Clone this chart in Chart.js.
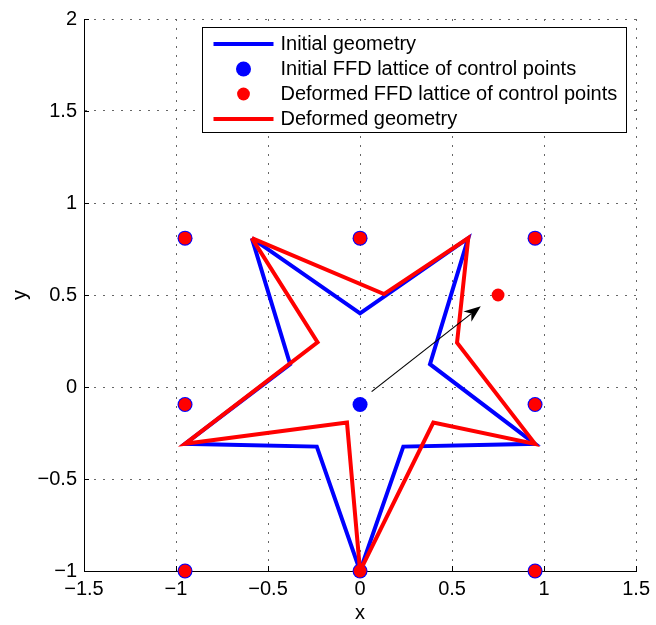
<!DOCTYPE html>
<html>
<head>
<meta charset="utf-8">
<script src="https://cdn.jsdelivr.net/npm/chart.js@4.4.1/dist/chart.umd.min.js"></script>
<style>
  html, body { margin: 0; padding: 0; background: #fff; }
  #wrap { width: 656px; height: 625px; }
</style>
</head>
<body>
<div id="wrap"><canvas id="ffdChart"></canvas></div>
<script>
// Star outline before the FFD step (closed: first vertex repeated)
const initialX = [-0.588, 0, 0.588, 0.38, 0.951, 0.235, 0, -0.235, -0.951, -0.38, -0.588];
const initialY = [0.809, 0.4, 0.809, 0.124, -0.309, -0.324, -1, -0.324, -0.309, 0.124, 0.809];

// Star outline after the centre control point was moved
const deformedX = [-0.588, 0.13, 0.588, 0.527, 0.951, 0.398, 0, -0.071, -0.951, -0.231, -0.588];
const deformedY = [0.809, 0.505, 0.809, 0.241, -0.309, -0.193, -1, -0.193, -0.309, 0.243, 0.809];

// 3x3 lattice of control points, before and after
const latticeX = [-0.951, 0, 0.951, -0.951, 0, 0.951, -0.951, 0, 0.951];
const latticeY = [-1, -1, -1, -0.095, -0.095, -0.095, 0.809, 0.809, 0.809];
const movedLatticeX = [-0.951, 0, 0.951, -0.951, 0.75, 0.951, -0.951, 0, 0.951];
const movedLatticeY = [-1, -1, -1, -0.095, 0.5, -0.095, 0.809, 0.809, 0.809];

// displacement arrow: [from, to]
const arrowX = [0.063, 0.656];
const arrowY = [-0.025, 0.439];

const xTicks = [-1.5, -1, -0.5, 0, 0.5, 1, 1.5];
const yTicks = [-1, -0.5, 0, 0.5, 1, 1.5, 2];

const FONT = '"Liberation Sans", Arial, Helvetica, sans-serif';
Chart.defaults.font.family = FONT;
Chart.defaults.font.size = 20;
Chart.defaults.color = '#000';

const toPoints = (xs, ys) => xs.map((x, i) => ({ x: x, y: ys[i] }));
const fmt = v => String(v).replace('-', '\u2212');

// small tick marks pointing into the plot area
const innerTicks = {
    id: 'innerTicks',
    beforeDatasetsDraw(chart) {
        const { ctx, chartArea, scales } = chart;
        ctx.save();
        ctx.strokeStyle = '#000';
        ctx.lineWidth = 1;
        ctx.beginPath();
        xTicks.forEach(v => {
            const px = Math.round(scales.x.getPixelForValue(v)) + 0.5;
            ctx.moveTo(px, chartArea.bottom);
            ctx.lineTo(px, chartArea.bottom - 5);
        });
        yTicks.forEach(v => {
            const py = Math.round(scales.y.getPixelForValue(v)) + 0.5;
            ctx.moveTo(chartArea.left, py);
            ctx.lineTo(chartArea.left + 5, py);
        });
        ctx.stroke();
        ctx.restore();
    }
};

// arrow showing how the centre control point moved
const moveArrow = {
    id: 'moveArrow',
    afterDatasetsDraw(chart) {
        const { ctx, scales } = chart;
        const x0 = scales.x.getPixelForValue(arrowX[0]);
        const y0 = scales.y.getPixelForValue(arrowY[0]);
        const x1 = scales.x.getPixelForValue(arrowX[1]);
        const y1 = scales.y.getPixelForValue(arrowY[1]);
        const a = Math.atan2(y1 - y0, x1 - x0);
        const len = 17, half = 6.5, notch = 12;
        const ux = Math.cos(a), uy = Math.sin(a);
        ctx.save();
        ctx.strokeStyle = '#000';
        ctx.fillStyle = '#000';
        ctx.lineWidth = 1.2;
        ctx.beginPath();
        ctx.moveTo(x0, y0);
        ctx.lineTo(x1 - ux * notch, y1 - uy * notch);
        ctx.stroke();
        ctx.beginPath();
        ctx.moveTo(x1, y1);
        ctx.lineTo(x1 - ux * len - uy * half, y1 - uy * len + ux * half);
        ctx.lineTo(x1 - ux * notch, y1 - uy * notch);
        ctx.lineTo(x1 - ux * len + uy * half, y1 - uy * len - ux * half);
        ctx.closePath();
        ctx.fill();
        ctx.restore();
    }
};

// boxed legend in the upper right of the axes
const boxLegend = {
    id: 'boxLegend',
    afterDraw(chart) {
        const { ctx, chartArea } = chart;
        const items = chart.data.datasets;
        const rowH = 25;
        ctx.save();
        ctx.font = '20px ' + FONT;
        const textW = Math.max(...items.map(ds => ctx.measureText(ds.label).width));
        const w = Math.round(78 + textW + 9);
        const h = items.length * rowH + 5;
        const left = Math.round(chartArea.right - 10 - w) + 0.5;
        const top = Math.round(chartArea.top + 8) + 0.5;
        ctx.fillStyle = '#fff';
        ctx.fillRect(left, top, w, h);
        ctx.strokeStyle = '#000';
        ctx.lineWidth = 1;
        ctx.strokeRect(left, top, w, h);
        items.forEach((ds, i) => {
            const cy = top + 16.5 + i * rowH;
            if (ds.showLine) {
                ctx.strokeStyle = ds.borderColor;
                ctx.lineWidth = ds.borderWidth;
                ctx.beginPath();
                ctx.moveTo(left + 11, cy);
                ctx.lineTo(left + 71, cy);
                ctx.stroke();
            } else {
                ctx.fillStyle = ds.backgroundColor;
                ctx.beginPath();
                ctx.arc(left + 41, cy, ds.pointRadius, 0, Math.PI * 2);
                ctx.fill();
            }
            ctx.fillStyle = '#000';
            ctx.textBaseline = 'middle';
            ctx.textAlign = 'left';
            ctx.fillText(ds.label, left + 78, cy);
        });
        ctx.restore();
    }
};

const gridOpts = { drawTicks: false, color: '#666', lineWidth: 1 };
const borderOpts = { display: true, color: '#000', width: 1, dash: [2, 7] };

new Chart(document.getElementById('ffdChart'), {
    type: 'scatter',
    data: {
        datasets: [
            {
                label: 'Initial geometry',
                data: toPoints(initialX, initialY),
                showLine: true,
                borderColor: '#0000ff',
                backgroundColor: '#0000ff',
                borderWidth: 4,
                borderJoinStyle: 'miter',
                pointRadius: 0,
                pointHoverRadius: 0,
                order: 4,
                clip: false
            },
            {
                label: 'Initial FFD lattice of control points',
                data: toPoints(latticeX, latticeY),
                showLine: false,
                backgroundColor: '#0000ff',
                borderColor: '#0000ff',
                pointBorderWidth: 0,
                pointRadius: 7.5,
                pointHoverRadius: 7.5,
                order: 3,
                clip: false
            },
            {
                label: 'Deformed FFD lattice of control points',
                data: toPoints(movedLatticeX, movedLatticeY),
                showLine: false,
                backgroundColor: '#ff0000',
                borderColor: '#ff0000',
                pointBorderWidth: 0,
                pointRadius: 6.4,
                pointHoverRadius: 6.4,
                order: 2,
                clip: false
            },
            {
                label: 'Deformed geometry',
                data: toPoints(deformedX, deformedY),
                showLine: true,
                borderColor: '#ff0000',
                backgroundColor: '#ff0000',
                borderWidth: 4,
                borderJoinStyle: 'miter',
                pointRadius: 0,
                pointHoverRadius: 0,
                order: 1,
                clip: false
            }
        ]
    },
    options: {
        responsive: true,
        maintainAspectRatio: false,
        animation: false,
        events: [],
        layout: { padding: { top: 17, right: 18, left: 0, bottom: 0 } },
        plugins: { legend: { display: false }, tooltip: { enabled: false } },
        scales: {
            x: {
                type: 'linear',
                min: -1.5,
                max: 1.5,
                afterBuildTicks: s => { s.ticks = xTicks.map(v => ({ value: v })); },
                afterFit: s => { s.height = 54; },
                ticks: { padding: 6, maxRotation: 0, autoSkip: false, callback: fmt },
                grid: gridOpts,
                border: borderOpts,
                title: { display: true, text: 'x', padding: { top: 0, bottom: 0 } }
            },
            y: {
                type: 'linear',
                min: -1,
                max: 2,
                afterBuildTicks: s => { s.ticks = yTicks.map(v => ({ value: v })); },
                afterFit: s => { s.width = 84; },
                ticks: { padding: 7, autoSkip: false, callback: fmt },
                grid: gridOpts,
                border: borderOpts,
                title: { display: true, text: 'y', padding: { top: 8, bottom: 0 } }
            }
        }
    },
    plugins: [innerTicks, moveArrow, boxLegend]
});
</script>
</body>
</html>
